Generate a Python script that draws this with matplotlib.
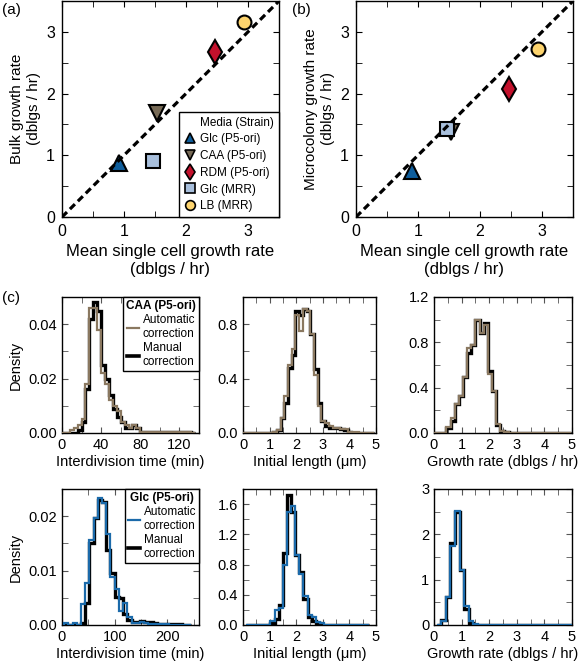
import numpy as np
import matplotlib
matplotlib.use("Agg")
import matplotlib.pyplot as plt
from matplotlib.ticker import MultipleLocator

plt.rcParams['font.family'] = ['Liberation Sans', 'DejaVu Sans']
plt.rcParams['xtick.direction'] = 'in'
plt.rcParams['ytick.direction'] = 'in'
plt.rcParams['xtick.top'] = True
plt.rcParams['ytick.right'] = True
plt.rcParams['axes.linewidth'] = 1.0

# ---- scatter data (a, b) ----
strains = ["Glc (P5-ori)", "CAA (P5-ori)", "RDM (P5-ori)", "Glc (MRR)", "LB (MRR)"]
markers = ["^", "v", "d", "s", "o"]
colors = ["#0f5e9c", "#776a56", "#c3112c", "#a8bfdc", "#fdd46e"]
single_cell_a = [0.92, 1.54, 2.46, 1.47, 2.93]
bulk_rate = [0.87, 1.69, 2.67, 0.91, 3.16]
single_cell_b = [0.91, 1.54, 2.47, 1.46, 2.94]
microcolony_rate = [0.74, 1.38, 2.08, 1.42, 2.72]

# ---- histogram data (c) ----
# CAA interdivision time, bins of 4 min from 0
caa_div_edges = np.arange(0, 137, 4)
caa_div_auto = [0, 0, 0.001, 0.002, 0.003, 0.005, 0.018, 0.046, 0.046, 0.038,
                0.022, 0.018, 0.012, 0.010, 0.008, 0.004, 0.003, 0.002, 0.003, 0.002,
                0.0005, 0.0003, 0.0003, 0.0003, 0.0002, 0.0002, 0.0002, 0.0002, 0.0002, 0.0002,
                0.0002, 0.0002, 0.0003, 0]
caa_div_manual = [0, 0, 0, 0, 0.001, 0.004, 0.016, 0.042, 0.048, 0.045,
                  0.025, 0.020, 0.014, 0.009, 0.006, 0.004, 0.002, 0.002, 0.003, 0.002,
                  0.0005, 0.0003, 0.0003, 0.0003, 0.0002, 0.0002, 0.0002, 0.0002, 0.0002, 0.0002,
                  0.0002, 0.0002, 0.0005, 0]

# CAA initial length
caa_len_edges = np.arange(0.01, 4.92, 0.14)
caa_len_auto = [0, 0, 0, 0, 0, 0, 0, 0.003, 0.01, 0.02,
                0.11, 0.27, 0.50, 0.62, 0.87, 0.75, 0.91, 0.90, 0.73, 0.43,
                0.20, 0.09, 0.07, 0.05, 0.04, 0.04, 0.03, 0.03, 0.01, 0.01,
                0.005, 0, 0, 0, 0]
caa_len_manual = [0, 0, 0, 0, 0, 0, 0, 0.002, 0.005, 0.02,
                  0.11, 0.22, 0.48, 0.57, 0.90, 0.87, 0.91, 0.90, 0.73, 0.47,
                  0.22, 0.09, 0.05, 0.04, 0.04, 0.04, 0.03, 0.02, 0.01, 0.003,
                  0, 0, 0, 0, 0]

# CAA growth rate
caa_gr_edges = np.arange(0, 5.0, 0.15)
caa_gr_auto = [0, 0, 0, 0.05, 0.13, 0.26, 0.33, 0.49, 0.75, 0.78,
               1.0, 0.88, 0.95, 0.52, 0.37, 0.08, 0.02, 0.005, 0, 0,
               0, 0, 0, 0, 0, 0, 0, 0, 0, 0, 0, 0, 0]
caa_gr_manual = [0, 0, 0, 0.04, 0.11, 0.26, 0.33, 0.49, 0.71, 0.78,
                 1.0, 0.88, 0.97, 0.55, 0.37, 0.07, 0.02, 0.005, 0, 0,
                 0, 0, 0, 0, 0, 0, 0, 0, 0, 0, 0, 0, 0]

# Glc interdivision time, bins of 8 min from 4
glc_div_edges = np.arange(4, 245, 8)
glc_div_auto = [0.0004, 0, 0.0004, 0, 0.0039, 0.0078, 0.0156, 0.0196, 0.0233, 0.0224,
                0.0168, 0.0089, 0.0067, 0.0025, 0.0040, 0.0015, 0.0003, 0.0003, 0.0006, 0.0003,
                0.0001, 0.0001, 0.0001, 0.0001, 0.0001, 0, 0, 0, 0, 0]
glc_div_manual = [0, 0, 0, 0, 0.0004, 0.0040, 0.0150, 0.0196, 0.0230, 0.0227,
                  0.0138, 0.0095, 0.0052, 0.0050, 0.0020, 0.0010, 0.0005, 0.0005, 0.0008, 0.0005,
                  0.0005, 0.0003, 0.0001, 0.0001, 0.0001, 0.0001, 0.0001, 0.0001, 0, 0]

# Glc initial length
glc_len_edges = np.arange(0.1, 4.76, 0.155)
glc_len_auto = [0, 0, 0, 0, 0, 0, 0.05, 0.20, 0.22, 0.80,
                1.50, 1.58, 0.92, 0.68, 0.38, 0.13, 0.10, 0.04, 0.02, 0,
                0, 0, 0, 0, 0, 0, 0, 0, 0, 0]
glc_len_manual = [0, 0, 0, 0, 0, 0, 0.02, 0.08, 0.27, 0.95,
                  1.72, 1.50, 0.92, 0.70, 0.35, 0.10, 0.05, 0.02, 0, 0,
                  0, 0, 0, 0, 0, 0, 0, 0, 0, 0]

# Glc growth rate
glc_gr_edges = np.arange(0.1, 5.06, 0.165)
glc_gr_auto = [0, 0.08, 0.62, 1.75, 2.52, 1.22, 0.42, 0.08, 0.02, 0,
               0, 0, 0, 0, 0, 0, 0, 0, 0, 0,
               0, 0, 0, 0, 0, 0, 0, 0, 0, 0]
glc_gr_manual = [0, 0.10, 0.62, 1.80, 2.50, 1.22, 0.35, 0.05, 0, 0,
                 0, 0, 0, 0, 0, 0, 0, 0, 0, 0,
                 0, 0, 0, 0, 0, 0, 0, 0, 0, 0]

W, H = 581, 666
fig = plt.figure(figsize=(W / 100, H / 100), dpi=100)


def px_axes(left, top, right, bottom):
    return fig.add_axes([left / W, 1 - bottom / H, (right - left) / W, (bottom - top) / H])


def scatter_panel(ax, xs, ys, ylabel, legend):
    ax.plot([0, 3.5], [0, 3.5], color="black", lw=2.3, ls=(0, (2.2, 1.3)), zorder=4)
    for i in range(len(strains)):
        ms = 11 if markers[i] in "^v" else (12 if markers[i] == "d" else 10)
        ax.plot(xs[i], ys[i], marker=markers[i], ms=ms, color=colors[i],
                mec="black", mew=1.5, ls="none", zorder=3)
    ax.set_xlim(0, 3.5)
    ax.set_ylim(0, 3.5)
    ax.xaxis.set_major_locator(MultipleLocator(1))
    ax.yaxis.set_major_locator(MultipleLocator(1))
    ax.xaxis.set_minor_locator(MultipleLocator(0.5))
    ax.yaxis.set_minor_locator(MultipleLocator(0.5))
    ax.tick_params(which="both", length=4, labelsize=11.5, top=True, right=True, pad=5)
    ax.set_xlabel("Mean single cell growth rate\n(dblgs / hr)", fontsize=12)
    ax.set_ylabel(ylabel, fontsize=11)
    if legend:
        handles = [ax.plot([], [], " ", label="Media (Strain)")[0]]
        for i in range(len(strains)):
            h, = ax.plot([], [], marker=markers[i], ms=7 if markers[i] != "d" else 8,
                         color=colors[i], mec="black", mew=1.2, ls="none", label=strains[i])
            handles.append(h)
        leg = ax.legend(handles=handles, loc="lower right", fontsize=8.5, frameon=True,
                        fancybox=False, edgecolor="black", framealpha=1, borderaxespad=0,
                        handlelength=1.0, handletextpad=0.4, labelspacing=0.4)
        leg.get_frame().set_linewidth(1.0)


ax_a = px_axes(62, 1, 279, 217)
scatter_panel(ax_a, single_cell_a, bulk_rate, "Bulk growth rate\n(dblgs / hr)", True)
ax_b = px_axes(356, 1, 573, 217)
scatter_panel(ax_b, single_cell_b, microcolony_rate, "Microcolony growth rate\n(dblgs / hr)", False)

fig.text(2 / W, 1 - 10 / H, "(a)", fontsize=11, va="center")
fig.text(292 / W, 1 - 10 / H, "(b)", fontsize=11, va="center")
fig.text(2 / W, 1 - 298 / H, "(c)", fontsize=11, va="center")


def hist_panel(ax, edges, auto, manual, col, xlim, xmaj, ylim, ymaj, yfmt, xlabel, title=None):
    ax.stairs(manual, edges, color="black", lw=2.4, zorder=2)
    ax.stairs(auto, edges, color=col, lw=1.6, zorder=3)
    ax.set_xlim(*xlim)
    ax.set_ylim(*ylim)
    ax.xaxis.set_major_locator(MultipleLocator(xmaj))
    ax.xaxis.set_minor_locator(MultipleLocator(xmaj / 2))
    ax.yaxis.set_major_locator(MultipleLocator(ymaj))
    ax.yaxis.set_minor_locator(MultipleLocator(ymaj / 2))
    ax.yaxis.set_major_formatter(yfmt)
    ax.tick_params(which="both", length=4, labelsize=10.5, top=True, right=True,
                   color="#555555")
    ax.set_xlabel(xlabel, fontsize=10.5, labelpad=2)
    if title is not None:
        ax.set_ylabel("Density", fontsize=10.5)
        h1, = ax.plot([], [], color=col, lw=1.6, label="Automatic\ncorrection")
        h2, = ax.plot([], [], color="black", lw=2.6, label="Manual\ncorrection")
        leg = ax.legend(handles=[h1, h2], loc="upper right", title=title,
                        title_fontproperties={"weight": "bold", "size": 8.5},
                        fontsize=8.5, frameon=True, fancybox=False, edgecolor="black",
                        framealpha=1, borderaxespad=0, handlelength=1.0,
                        handletextpad=0.3, labelspacing=0.2, borderpad=0.25)
        leg.get_frame().set_linewidth(1.0)


brown = "#8a7860"
blue = "#1b6aaa"
cols = [(62, 199), (243, 376), (434, 572)]
rows = [(297, 433), (489, 625)]

ax = px_axes(cols[0][0], rows[0][0], cols[0][1], rows[0][1])
hist_panel(ax, caa_div_edges, caa_div_auto, caa_div_manual, brown, (0, 140), 40,
           (0, 0.05), 0.02, "{x:.2f}", "Interdivision time (min)", "CAA (P5-ori)")
ax = px_axes(cols[1][0], rows[0][0], cols[1][1], rows[0][1])
hist_panel(ax, caa_len_edges, caa_len_auto, caa_len_manual, brown, (0, 5), 1,
           (0, 1.0), 0.4, "{x:.1f}", "Initial length (μm)")
ax = px_axes(cols[2][0], rows[0][0], cols[2][1], rows[0][1])
hist_panel(ax, caa_gr_edges, caa_gr_auto, caa_gr_manual, brown, (0, 5), 1,
           (0, 1.2), 0.4, "{x:.1f}", "Growth rate (dblgs / hr)")

ax = px_axes(cols[0][0], rows[1][0], cols[0][1], rows[1][1])
hist_panel(ax, glc_div_edges, glc_div_auto, glc_div_manual, blue, (0, 260), 100,
           (0, 0.025), 0.01, "{x:.2f}", "Interdivision time (min)", "Glc (P5-ori)")
ax = px_axes(cols[1][0], rows[1][0], cols[1][1], rows[1][1])
hist_panel(ax, glc_len_edges, glc_len_auto, glc_len_manual, blue, (0, 5), 1,
           (0, 1.8), 0.4, "{x:.1f}", "Initial length (μm)")
ax = px_axes(cols[2][0], rows[1][0], cols[2][1], rows[1][1])
hist_panel(ax, glc_gr_edges, glc_gr_auto, glc_gr_manual, blue, (0, 5), 1,
           (0, 3), 1, "{x:.0f}", "Growth rate (dblgs / hr)")

fig.savefig("out.png", dpi=100)
